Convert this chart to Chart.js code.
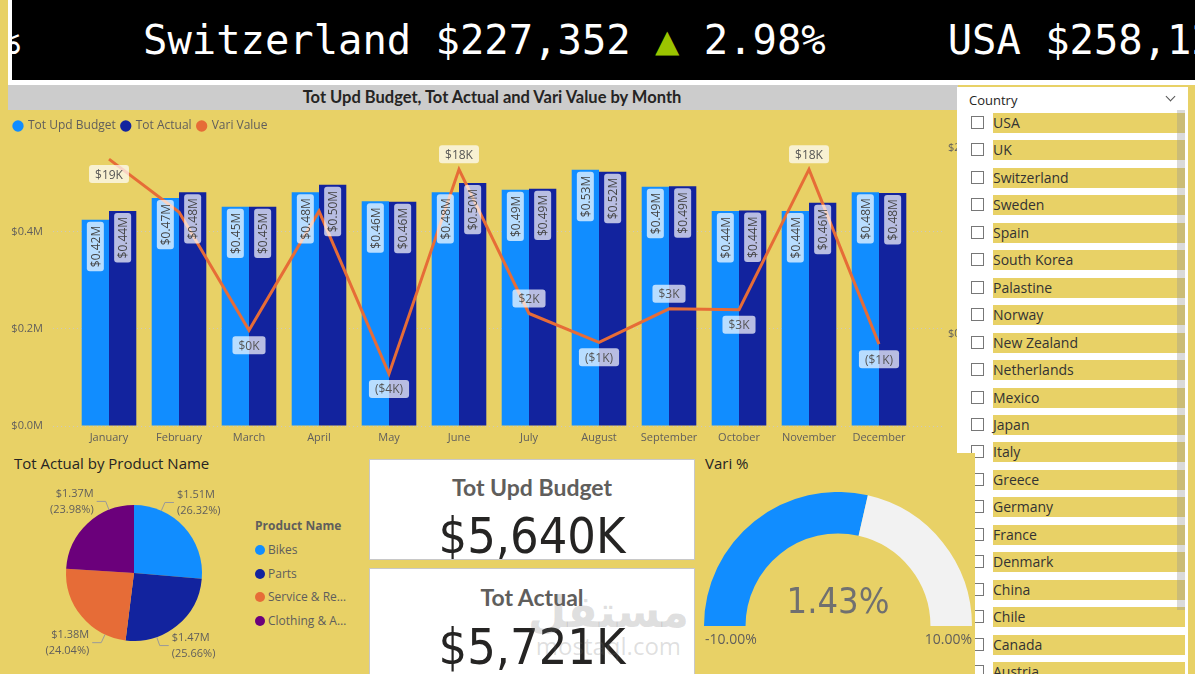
<!DOCTYPE html>
<html>
<head>
<meta charset="utf-8">
<script src="https://cdn.jsdelivr.net/npm/chart.js@4.4.0/dist/chart.umd.min.js"></script>
<style>
  html, body { margin: 0; padding: 0; }
  body { width: 1195px; height: 674px; overflow: hidden; position: relative; background: #E8D166; font-family: "Open Sans", sans-serif; color: #252423; }
  .abs { position: absolute; }
  #tickerFrame { left: 8px; top: 0; width: 1187px; height: 85px; background: #fff; }
  #ticker { left: 12px; top: 0; width: 1183px; height: 80px; background: #000; overflow: hidden; font-family: "DejaVu Sans Mono", monospace; font-size: 40.5px; line-height: 80px; color: #fff; white-space: pre; }
  #ticker .up { color: #9BC400; }
  #comboTitle { left: 8px; top: 85px; width: 950px; height: 25px; background: #CCCCCC; font-family: Lato, sans-serif; font-weight: bold; font-size: 16.5px; line-height: 25px; text-align: center; box-sizing: border-box; padding-left: 18px; color: #252423; }
  .panelTitle { font-size: 15px; color: #252423; }
  #pieLegend { left: 255px; top: 517px; font-size: 12px; color: #605E5C; }
  #pieLegend .head { font-weight: bold; margin-bottom: 4px; }
  #pieLegend .item { height: 23.6px; line-height: 23.6px; white-space: nowrap; overflow: hidden; text-overflow: ellipsis; width: 96px; }
  #pieLegend .dot { display: inline-block; width: 10px; height: 10px; border-radius: 50%; margin-right: 3px; vertical-align: -1px; }
  .card { background: #fff; border: 1px solid #C8C8C8; box-sizing: border-box; text-align: center; overflow: hidden; }
  .card .t { font-family: Lato, sans-serif; font-weight: bold; font-size: 23px; color: #605E5C; position: absolute; left: 0; right: 0; }
  .card .v { font-family: "DejaVu Sans Condensed", "Liberation Sans Narrow", Roboto, sans-serif; font-size: 50px; color: #252423; position: absolute; left: 0; right: 0; }
  #slicer { left: 957px; top: 87px; width: 231px; height: 600px; background: #fff; }
  #slicer .head { position: absolute; left: 12px; top: 4px; font-size: 13px; color: #252423; }
  #slicer .chev { position: absolute; left: 210px; top: 6px; width: 6px; height: 6px; border-right: 1px solid #555; border-bottom: 1px solid #555; transform: rotate(45deg); }
  .row { position: absolute; left: 0; width: 231px; height: 20px; }
  .row .box { position: absolute; left: 14px; top: 3px; width: 13px; height: 13px; border: 1px solid #777; box-sizing: border-box; background: #fff; }
  .row .lab { position: absolute; left: 36px; top: 0; width: 192px; height: 20px; background: #E8D166; font-size: 14px; line-height: 20px; color: #333; }
  #scroll { left: 1177px; top: 110px; width: 8px; height: 500px; background: rgba(150,150,150,0.35); }
  #gaugePanel { left: 698px; top: 453px; width: 277px; height: 221px; background: #E8D166; }
  #gaugeValue { left: 704px; top: 580px; width: 268px; text-align: center; font-family: "DejaVu Sans Condensed", Roboto, sans-serif; font-weight: 300; font-size: 36px; color: #707070; }
  .gLab { top: 629px; font-size: 14px; color: #605E5C; }
  #watermark { left: 528px; top: 590px; color: rgba(110,110,110,0.22); text-align: center; line-height: 1; }
</style>
</head>
<body>
<div id="tickerFrame" class="abs"></div>
<div id="ticker" class="abs"></div>
<div id="comboTitle" class="abs">Tot Upd Budget, Tot Actual and Vari Value by Month</div>
<div class="abs" style="left:8px;top:110px;width:950px;height:340px;"><canvas id="combo"></canvas></div>

<div class="abs panelTitle" style="left:14px;top:453px;">Tot Actual by Product Name</div>
<div class="abs" style="left:24px;top:473px;width:220px;height:200px;"><canvas id="pie"></canvas></div>
<div id="pieLegend" class="abs"></div>

<div id="card1" class="abs card" style="left:369px;top:459px;width:326px;height:101px;"></div>
<div id="card2" class="abs card" style="left:369px;top:568px;width:326px;height:110px;"></div>
<div id="watermark" class="abs"><div style="font-family:'DejaVu Sans',sans-serif;font-size:44px;font-weight:bold;">مستقل</div><div style="font-family:'Open Sans',sans-serif;font-size:24px;">mostaql.com</div></div>

<div id="slicer" class="abs"><div class="head">Country</div><div class="chev"></div></div>
<div id="scroll" class="abs"></div>

<div id="gaugePanel" class="abs"></div>
<div class="abs panelTitle" style="left:705px;top:453px;">Vari %</div>
<div class="abs" style="left:704px;top:492px;width:268px;height:134px;"><canvas id="gauge"></canvas></div>
<div id="gaugeValue" class="abs"></div>
<div id="gMin" class="abs gLab" style="left:705px;"></div>
<div id="gMax" class="abs gLab" style="left:872px;width:100px;text-align:right;"></div>

<script>
// ---- data ----
var months = ['January', 'February', 'March', 'April', 'May', 'June', 'July', 'August', 'September', 'October', 'November', 'December'];
var totUpdBudget = [0.425, 0.470, 0.452, 0.482, 0.463, 0.482, 0.487, 0.528, 0.493, 0.443, 0.443, 0.482];   // $M
var totActual = [0.443, 0.482, 0.452, 0.497, 0.462, 0.501, 0.489, 0.524, 0.494, 0.444, 0.460, 0.480];      // $M
var variValue = [18.8, 13.1, 0.4, 13.2, -4.3, 17.7, 2.2, -0.9, 2.7, 2.6, 17.7, -1.1];                        // $K
var variLabelSide = ['below', '', 'below', '', 'below', 'above', 'above', 'below', 'above', 'below', 'above', 'below'];

var products = ['Bikes', 'Parts', 'Service & Repairs', 'Clothing & Accessories'];
var productActual = [1505.8, 1468.0, 1375.3, 1371.9];   // $K

var kpiBudget = 5640;   // $K
var kpiActual = 5721;   // $K
var variPct = 1.43, variMin = -10, variMax = 10;

var tickerItems = ['Switzerland $227,352', 'USA $258,12'];
var tickerChange = ['2.98%'];

var countries = ['USA', 'UK', 'Switzerland', 'Sweden', 'Spain', 'South Korea', 'Palastine', 'Norway', 'New Zealand',
  'Netherlands', 'Mexico', 'Japan', 'Italy', 'Greece', 'Germany', 'France', 'Denmark', 'China', 'Chile', 'Canada', 'Austria'];

var C_BUDGET = '#118DFF', C_ACTUAL = '#12239E', C_VARI = '#E66C37', C_CLOTH = '#6B007B';

// ---- ticker ----
document.getElementById('ticker').innerHTML =
  '<span style="position:absolute;left:-16px;">%</span>' +
  '<span style="position:absolute;left:131px;">' + tickerItems[0] + ' <span class="up">▲</span> ' + tickerChange[0] + '     ' + tickerItems[1] + '</span>';

// ---- combo chart ----
function fmtK(v) {
  var r = Math.round(v);
  return r < 0 ? '($' + Math.abs(r) + 'K)' : '$' + r + 'K';
}

function roundBox(ctx, x, y, w, h, r) {
  ctx.beginPath();
  ctx.moveTo(x + r, y);
  ctx.arcTo(x + w, y, x + w, y + h, r);
  ctx.arcTo(x + w, y + h, x, y + h, r);
  ctx.arcTo(x, y + h, x, y, r);
  ctx.arcTo(x, y, x + w, y, r);
  ctx.closePath();
}

// a bit more room under the legend
var legendGap = {
  id: 'legendGap',
  beforeLayout: function(chart) {
    var lg = chart.legend;
    if (lg && !lg._gap) {
      var fit = lg.fit;
      lg.fit = function() { fit.call(this); this.height += 5; };
      lg._gap = true;
    }
  }
};

var comboLabels = {
  id: 'comboLabels',
  afterDatasetsDraw: function(chart) {
    var ctx = chart.ctx;
    ctx.save();
    ctx.font = '12px "Open Sans"';
    ctx.textAlign = 'center';
    ctx.textBaseline = 'middle';
    [0, 1].forEach(function(di) {
      chart.getDatasetMeta(di).data.forEach(function(bar, i) {
        var txt = '$' + chart.data.datasets[di].data[i].y.toFixed(2) + 'M';
        var L = ctx.measureText(txt).width + 8;
        ctx.save();
        ctx.translate(bar.x, bar.y + 2 + L / 2);
        ctx.rotate(-Math.PI / 2);
        roundBox(ctx, -L / 2, -8.5, L, 17, 3);
        ctx.fillStyle = 'rgba(255,255,255,0.7)';
        ctx.fill();
        ctx.fillStyle = '#444';
        ctx.fillText(txt, 0, 1);
        ctx.restore();
      });
    });
    chart.getDatasetMeta(2).data.forEach(function(pt, i) {
      var side = variLabelSide[i];
      if (!side) return;
      var txt = fmtK(variValue[i]);
      var w = ctx.measureText(txt).width + 12;
      var cy = pt.y + (side === 'above' ? -15 : 15);
      roundBox(ctx, pt.x - w / 2, cy - 9, w, 18, 3);
      ctx.fillStyle = 'rgba(255,255,255,0.7)';
      ctx.fill();
      ctx.fillStyle = '#555';
      ctx.fillText(txt, pt.x, cy + 1);
    });
    ctx.restore();
  }
};

function pts(arr) {
  return arr.map(function(v, i) { return { x: i, y: v }; });
}

new Chart(document.getElementById('combo'), {
  type: 'bar',
  data: {
    datasets: [
      { label: 'Tot Upd Budget', data: pts(totUpdBudget), backgroundColor: C_BUDGET, order: 1, yAxisID: 'y' },
      { label: 'Tot Actual', data: pts(totActual), backgroundColor: C_ACTUAL, order: 1, yAxisID: 'y' },
      { label: 'Vari Value', type: 'line', data: pts(variValue), borderColor: C_VARI, backgroundColor: C_VARI,
        borderWidth: 3, pointRadius: 0, tension: 0, order: 0, yAxisID: 'y1' }
    ]
  },
  options: {
    responsive: true,
    maintainAspectRatio: false,
    animation: false,
    barPercentage: 1,
    categoryPercentage: 0.78,
    layout: { padding: { top: 4 } },
    plugins: {
      legend: {
        position: 'top',
        align: 'start',
        labels: {
          usePointStyle: true,
          boxWidth: 8,
          boxHeight: 8,
          padding: 6,
          color: '#605E5C',
          font: { family: 'Open Sans', size: 12 },
          sort: function(a, b) { return a.datasetIndex - b.datasetIndex; },
          generateLabels: function(chart) {
            return Chart.defaults.plugins.legend.labels.generateLabels(chart).map(function(l) {
              l.lineWidth = 0;
              l.pointStyle = 'circle';
              return l;
            });
          }
        }
      },
      tooltip: { enabled: false }
    },
    scales: {
      x: {
        type: 'linear',
        offset: false,
        min: -0.8,
        max: 11.9,
        grid: { display: false, drawTicks: false },
        border: { display: false },
        afterBuildTicks: function(s) { s.ticks = months.map(function(m, i) { return { value: i }; }); },
        afterFit: function(s) { s.height = 24; },
        ticks: {
          padding: 5,
          autoSkip: false,
          maxRotation: 0,
          color: '#605E5C',
          font: { family: 'Open Sans', size: 11 },
          callback: function(v) { return months[v]; }
        }
      },
      y: {
        position: 'left',
        min: 0,
        max: 0.575,
        grid: { color: 'rgba(200,200,200,0.9)', drawTicks: false },
        border: { display: false, dash: [1, 3] },
        afterBuildTicks: function(s) { s.ticks = [{ value: 0 }, { value: 0.2 }, { value: 0.4 }]; },
        afterFit: function(s) { s.width = 45; },
        ticks: {
          padding: 10,
          color: '#605E5C',
          font: { family: 'Open Sans', size: 11 },
          callback: function(v) { return '$' + v.toFixed(1) + 'M'; }
        }
      },
      y1: {
        position: 'right',
        min: -9.9,
        max: 20.1,
        grid: { drawOnChartArea: false, drawTicks: false },
        border: { display: false },
        afterBuildTicks: function(s) { s.ticks = [{ value: 0 }, { value: 20 }]; },
        afterFit: function(s) { s.width = 16; },
        ticks: {
          padding: 6,
          color: '#605E5C',
          font: { family: 'Open Sans', size: 11 },
          callback: function(v) { return '$' + v + 'K'; }
        }
      }
    }
  },
  plugins: [legendGap, comboLabels]
});

// ---- pie ----
var pieTotal = productActual.reduce(function(a, b) { return a + b; }, 0);
var pieLabels = {
  id: 'pieLabels',
  afterDatasetsDraw: function(chart) {
    var ctx = chart.ctx;
    ctx.save();
    ctx.font = '11px "Open Sans"';
    ctx.textBaseline = 'middle';
    ctx.strokeStyle = '#999';
    ctx.lineWidth = 1;
    chart.getDatasetMeta(0).data.forEach(function(arc, i) {
      var a = (arc.startAngle + arc.endAngle) / 2 + Math.PI / 2;
      var v = Math.round(a / Math.PI) * Math.PI;
      a = a + (v - a) * 0.5;
      var r = arc.outerRadius, cx = arc.x, cy = arc.y;
      var sx = Math.sin(a), sy = -Math.cos(a);
      var x1 = cx + r * sx, y1 = cy + r * sy;
      var x2 = cx + (r + 9) * sx, y2 = cy + (r + 9) * sy;
      var dir = sx >= 0 ? 1 : -1;
      var x3 = x2 + 9 * dir;
      ctx.beginPath();
      ctx.moveTo(x1, y1); ctx.lineTo(x2, y2); ctx.lineTo(x3, y2);
      ctx.stroke();
      ctx.fillStyle = '#605E5C';
      ctx.textAlign = dir > 0 ? 'left' : 'right';
      var val = productActual[i];
      ctx.fillText('$' + (val / 1000).toFixed(2) + 'M', x3 + 3 * dir, y2 - 8);
      ctx.fillText('(' + (val / pieTotal * 100).toFixed(2) + '%)', x3 + 3 * dir, y2 + 8);
    });
    ctx.restore();
  }
};

new Chart(document.getElementById('pie'), {
  type: 'pie',
  data: {
    labels: products,
    datasets: [{ data: productActual, backgroundColor: [C_BUDGET, C_ACTUAL, C_VARI, C_CLOTH], borderWidth: 0 }]
  },
  options: {
    responsive: true,
    maintainAspectRatio: false,
    animation: false,
    layout: { padding: 32 },
    plugins: { legend: { display: false }, tooltip: { enabled: false } }
  },
  plugins: [pieLabels]
});

var pl = '<div class="head">Product Name</div>';
products.forEach(function(p, i) {
  var col = [C_BUDGET, C_ACTUAL, C_VARI, C_CLOTH][i];
  pl += '<div class="item"><span class="dot" style="background:' + col + '"></span>' + p + '</div>';
});
document.getElementById('pieLegend').innerHTML = pl;

// ---- cards ----
function fmtThousands(v) {
  return '$' + v.toString().replace(/\B(?=(\d{3})+(?!\d))/g, ',') + 'K';
}
document.getElementById('card1').innerHTML = '<div class="t" style="top:13px;">Tot Upd Budget</div><div class="v" style="top:47px;">' + fmtThousands(kpiBudget) + '</div>';
document.getElementById('card2').innerHTML = '<div class="t" style="top:14px;">Tot Actual</div><div class="v" style="top:49px;">' + fmtThousands(kpiActual) + '</div>';

// ---- slicer ----
var sl = document.getElementById('slicer');
countries.forEach(function(c, i) {
  var row = document.createElement('div');
  row.className = 'row';
  row.style.top = (26 + i * 27.45) + 'px';
  row.innerHTML = '<div class="box"></div><div class="lab">' + c + '</div>';
  sl.appendChild(row);
});

// ---- gauge ----
new Chart(document.getElementById('gauge'), {
  type: 'doughnut',
  data: {
    datasets: [{ data: [variPct - variMin, variMax - variPct], backgroundColor: [C_BUDGET, '#F2F2F2'], borderWidth: 0 }]
  },
  options: {
    responsive: true,
    maintainAspectRatio: false,
    animation: false,
    rotation: -90,
    circumference: 180,
    cutout: '69%',
    plugins: { legend: { display: false }, tooltip: { enabled: false } }
  }
});
document.getElementById('gaugeValue').textContent = variPct.toFixed(2) + '%';
document.getElementById('gMin').textContent = variMin.toFixed(2) + '%';
document.getElementById('gMax').textContent = variMax.toFixed(2) + '%';
</script>
</body>
</html>
